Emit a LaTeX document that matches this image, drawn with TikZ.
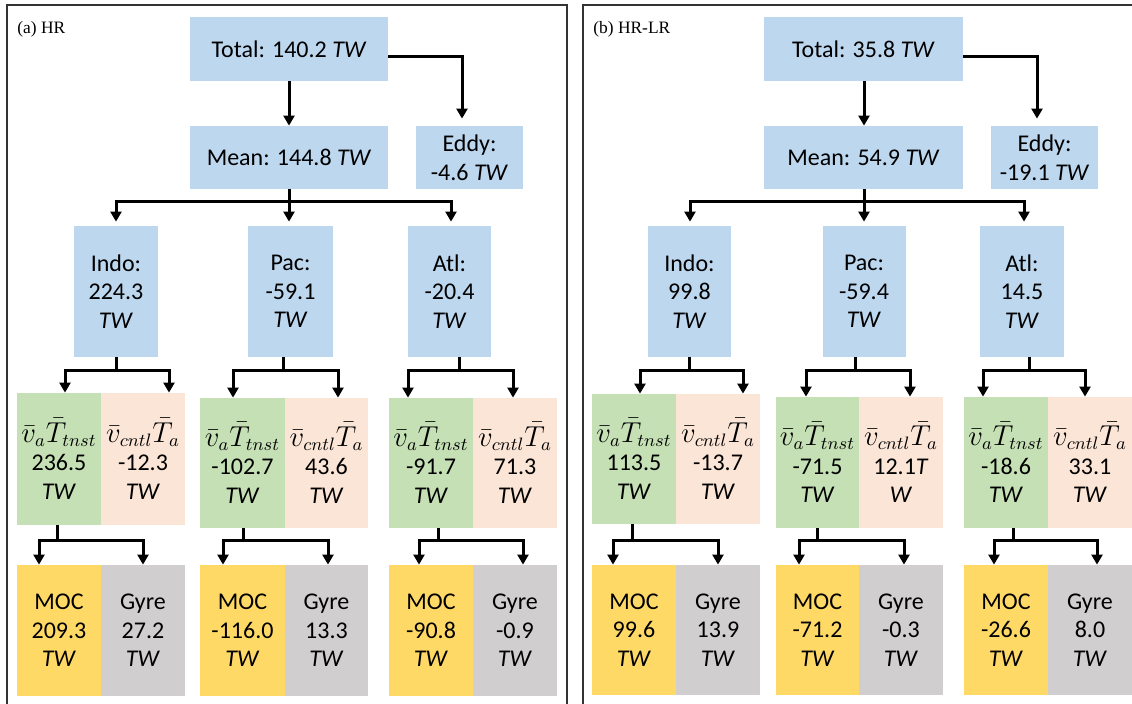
\documentclass[tikz,border=0pt]{standalone}
\usepackage{fontspec}
\setmainfont{Carlito}
\newfontfamily\panelfont{Liberation Serif}
\usetikzlibrary{arrows.meta}
\definecolor{cblue}{HTML}{BDD7EE}
\definecolor{cgreen}{HTML}{C5E0B4}
\definecolor{cpeach}{HTML}{FBE5D6}
\definecolor{cyellow}{HTML}{FFD966}
\definecolor{cgray}{HTML}{D0CECE}
\newcommand{\fA}{{\fontsize{13.4}{14.3}\selectfont$\bar{v}_a\bar{T}_{tnst}$}}
\newcommand{\fB}{{\fontsize{13.4}{14.3}\selectfont$\bar{v}_{cntl}\bar{T}_a$}}
\begin{document}
\begin{tikzpicture}[x=0.5pt,y=-0.5pt,
  bx/.style 2 args={minimum width=#1*0.5pt, minimum height=#2*0.5pt},
  cell/.style={inner sep=0pt, align=center, font=\fontsize{12}{14.3}\selectfont},
  bluebox/.style={cell, fill=cblue},
  greenbox/.style={cell, fill=cgreen},
  peachbox/.style={cell, fill=cpeach},
  mocbox/.style={cell, fill=cyellow},
  gyrebox/.style={cell, fill=cgray},
  conn/.style={line width=1.5pt, black},
  arr/.style={conn, -{Triangle[width=5.5pt,length=5pt]}},
  frame/.style={line width=0.8pt, black!80},
  lbl/.style={inner sep=0pt, anchor=west, font=\panelfont\fontsize{8.7}{10}\selectfont}
]
\useasboundingbox (0,0) rectangle (1132,704);
\fill[white] (0,0) rectangle (1132,704);
% frames
\draw[frame] (7,706) -- (7,5) -- (567,5) -- (567,706);
\draw[frame] (583,706) -- (583,5) -- (1134,5);
\node[lbl] (labA) at (17,29) {(a) HR};
\node[lbl] (labB) at (593,29) {(b) HR-LR};

% ===== left panel =====
\node[bluebox, bx={198}{64}] (tot) at (289,49) {Total: 140.2 \textit{TW}};
\node[bluebox, bx={198}{63}] (mean) at (289,157.5) {Mean: 144.8 \textit{TW}};
\node[bluebox, bx={107}{63}] (eddy) at (469.5,157.5) {Eddy:\\-4.6 \textit{TW}};
\node[bluebox, bx={84}{131}] (indo) at (116,291.5) {Indo:\\224.3\\\textit{TW}};
\node[bluebox, bx={85}{131}] (pac) at (290.5,291.5) {Pac:\\-59.1\\\textit{TW}};
\node[bluebox, bx={83}{131}] (atl) at (449.5,291.5) {Atl:\\-20.4\\\textit{TW}};

\node[greenbox, bx={84}{132}] (gi) at (59,459) {\fA\\236.5\\\textit{TW}};
\node[peachbox, bx={84}{132}] (ci) at (143,459) {\fB\\-12.3\\\textit{TW}};
\node[greenbox, bx={85}{130}] (gp) at (242.5,463) {\fA\\-102.7\\\textit{TW}};
\node[peachbox, bx={83}{130}] (cp) at (326.5,463) {\fB\\43.6\\\textit{TW}};
\node[greenbox, bx={84}{130}] (ga) at (431,463) {\fA\\-91.7\\\textit{TW}};
\node[peachbox, bx={84}{130}] (ca) at (515,463) {\fB\\71.3\\\textit{TW}};

\node[mocbox, bx={84}{131}] (mi) at (59,630.5) {MOC\\209.3\\\textit{TW}};
\node[gyrebox, bx={84}{131}] (yi) at (143,630.5) {Gyre\\27.2\\\textit{TW}};
\node[mocbox, bx={85}{131}] (mp) at (242.5,630.5) {MOC\\-116.0\\\textit{TW}};
\node[gyrebox, bx={83}{131}] (yp) at (326.5,630.5) {Gyre\\13.3\\\textit{TW}};
\node[mocbox, bx={84}{131}] (ma) at (431,630.5) {MOC\\-90.8\\\textit{TW}};
\node[gyrebox, bx={84}{131}] (ya) at (515,630.5) {Gyre\\-0.9\\\textit{TW}};

\draw[arr] (tot.south) -- (mean.north);
\draw[arr, shorten >=3.5pt] (tot.east |- 0,57) -| (eddy.north -| 462,0);
\draw[conn] (mean.south) -- (289,202) coordinate (bm);
\draw[arr, shorten >=2pt] (bm) -| (indo.north);
\draw[arr, shorten >=2pt] (bm) -- (pac.north -| 289,0);
\draw[arr, shorten >=2pt] (bm) -| (atl.north -| 451,0);

\draw[conn] (indo.south) -- (116,371) coordinate (bi);
\draw[arr] (bi) -| (gi.north -| 65,0);
\draw[arr] (bi) -| (ci.north -| 169,0);
\draw[conn] (pac.south -| 283,0) -- (283,371) coordinate (bp);
\draw[arr] (bp) -| (gp.north -| 233,0);
\draw[arr] (bp) -| (cp.north -| 338,0);
\draw[conn] (atl.south -| 459,0) -- (459,371) coordinate (ba);
\draw[arr] (ba) -| (ga.north -| 408,0);
\draw[arr] (ba) -| (ca.north -| 513,0);

\draw[conn] (gi.south -| 57,0) -- (57,541) coordinate (li);
\draw[arr] (li) -| (mi.north -| 39,0);
\draw[arr] (li) -| (yi.north -| 143,0);
\draw[conn] (gp.south -| 243,0) -- (243,541) coordinate (lp);
\draw[arr] (lp) -| (mp.north -| 223,0);
\draw[arr] (lp) -| (yp.north -| 328,0);
\draw[conn] (ga.south -| 438,0) -- (438,541) coordinate (lq);
\draw[arr] (lq) -| (ma.north -| 419,0);
\draw[arr] (lq) -| (ya.north -| 523,0);

% ===== right panel =====
\node[bluebox, bx={199}{64}] (tot2) at (863.5,49) {Total: 35.8 \textit{TW}};
\node[bluebox, bx={199}{63}] (mean2) at (863.5,157.5) {Mean: 54.9 \textit{TW}};
\node[bluebox, bx={107}{63}] (eddy2) at (1044.5,157.5) {Eddy:\\-19.1 \textit{TW}};
\node[bluebox, bx={83}{131}] (indo2) at (689.5,291.5) {Indo:\\99.8\\\textit{TW}};
\node[bluebox, bx={83}{131}] (pac2) at (864,291.5) {Pac:\\-59.4\\\textit{TW}};
\node[bluebox, bx={84}{131}] (atl2) at (1022,291.5) {Atl:\\14.5\\\textit{TW}};

\node[greenbox, bx={84}{130}] (gi2) at (634,459) {\fA\\113.5\\\textit{TW}};
\node[peachbox, bx={84}{130}] (ci2) at (718,459) {\fB\\-13.7\\\textit{TW}};
\node[greenbox, bx={83}{131}] (gp2) at (817.5,462.5) {\fA\\-71.5\\\textit{TW}};
\node[peachbox, bx={84}{131}] (cp2) at (901,462.5) {\fB\\12.1\textit{T}\\\textit{W}};
\node[greenbox, bx={84}{131}] (ga2) at (1006,462.5) {\fA\\-18.6\\\textit{TW}};
\node[peachbox, bx={84}{131}] (ca2) at (1090,462.5) {\fB\\33.1\\\textit{TW}};

\node[mocbox, bx={84}{130}] (mi2) at (634,630) {MOC\\99.6\\\textit{TW}};
\node[gyrebox, bx={84}{130}] (yi2) at (718,630) {Gyre\\13.9\\\textit{TW}};
\node[mocbox, bx={83}{130}] (mp2) at (817.5,630) {MOC\\-71.2\\\textit{TW}};
\node[gyrebox, bx={84}{130}] (yp2) at (901,630) {Gyre\\-0.3\\\textit{TW}};
\node[mocbox, bx={84}{130}] (ma2) at (1006,630) {MOC\\-26.6\\\textit{TW}};
\node[gyrebox, bx={84}{130}] (ya2) at (1090,630) {Gyre\\8.0\\\textit{TW}};

\draw[arr] (tot2.south -| 864,0) -- (mean2.north -| 864,0);
\draw[arr, shorten >=3.5pt] (tot2.east |- 0,57) -| (eddy2.north -| 1037,0);
\draw[conn] (mean2.south -| 864,0) -- (864,202) coordinate (bm2);
\draw[arr, shorten >=2pt] (bm2) -| (indo2.north -| 690,0);
\draw[arr, shorten >=2pt] (bm2) -- (pac2.north -| 864,0);
\draw[arr, shorten >=2pt] (bm2) -| (atl2.north -| 1024,0);

\draw[conn] (indo2.south -| 689,0) -- (689,371) coordinate (bi2);
\draw[arr] (bi2) -| (gi2.north -| 640,0);
\draw[arr] (bi2) -| (ci2.north -| 743,0);
\draw[conn] (pac2.south -| 855,0) -- (855,371) coordinate (bp2);
\draw[arr] (bp2) -| (gp2.north -| 806,0);
\draw[arr] (bp2) -| (cp2.north -| 910,0);
\draw[conn] (atl2.south -| 1029,0) -- (1029,371) coordinate (ba2);
\draw[arr] (ba2) -| (ga2.north -| 983,0);
\draw[arr] (ba2) -| (ca2.north -| 1085,0);

\draw[conn] (gi2.south -| 632,0) -- (632,541) coordinate (li2);
\draw[arr] (li2) -| (mi2.north -| 613,0);
\draw[arr] (li2) -| (yi2.north -| 718,0);
\draw[conn] (gp2.south -| 817,0) -- (817,541) coordinate (lp2);
\draw[arr] (lp2) -| (mp2.north -| 799,0);
\draw[arr] (lp2) -| (yp2.north -| 904,0);
\draw[conn] (ga2.south -| 1013,0) -- (1013,541) coordinate (lq2);
\draw[arr] (lq2) -| (ma2.north -| 994,0);
\draw[arr] (lq2) -| (ya2.north -| 1097,0);
\end{tikzpicture}
\end{document}
